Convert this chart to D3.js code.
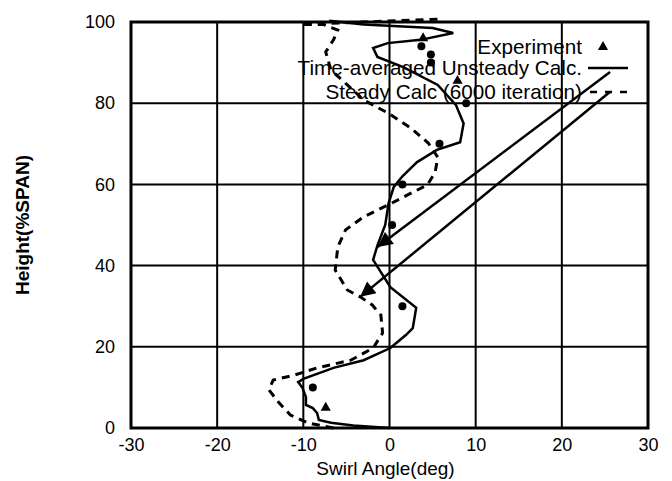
<!DOCTYPE html>
<html>
<head>
<meta charset="utf-8">
<script src="https://cdn.jsdelivr.net/npm/d3@7"></script>
<style>
  body { margin: 0; background: #fff; }
  text { font-family: "Liberation Sans", Arial, sans-serif; fill: #000; }
</style>
</head>
<body>
<div id="vis"></div>
<script>
// swirl angle (deg) vs span height (%)
let unsteadyAngle = [0, -4.2, -6.8, -8.2, -8.4, -8.9, -9.7, -9.7, -10.1, -10.6, -10, -6.5, -3, 0.1, 1.9, 2.7, 3.1, 0.1, -1.9, -1.4, -0.5, -0.1, 0.5, 1.5, 3.2, 5.5, 8.2, 8.6, 7.7, 5.6, 1.6, -1.4, -1.9, -0.2, 3.6, 7.4, 5, -3, -7];
let unsteadySpan  = [0, 0.6, 1.3, 2, 3.7, 4.9, 5.7, 7.6, 9.9, 11.3, 12.1, 14.8, 16.7, 19.7, 22.9, 24.6, 29.6, 34.7, 41.4, 45, 50, 55.4, 59.4, 62, 65.5, 68.5, 70.4, 75, 79.6, 84.5, 88.9, 91.4, 93.6, 94.8, 95.6, 97.3, 98.5, 99.4, 100.3];

let steadyAngle = [-6.5, -9.4, -11.5, -12.9, -14, -13.5, -11.1, -8.4, -4.5, -1.9, -0.8, -1, -2, -3.4, -4.9, -6.3, -6, -5.1, -3, -0.2, 2.1, 4.4, 5.3, 5.6, 4.5, 2.4, -0.2, -3, -4.9, -6.8, -7.4, -6.5, -6, -7.7, -10.3, 5.6];
let steadySpan  = [0, 1.2, 3.2, 6.4, 9.4, 11.8, 13, 14.8, 16.7, 19.7, 23.4, 27.8, 30.3, 32.3, 34, 38.9, 44.6, 48.8, 52, 54.9, 57.4, 59.9, 63, 66.7, 70.2, 74, 77.6, 80.8, 84.5, 88.2, 92.6, 95.6, 98, 99.4, 99.4, 100.7];

let expCircleAngle = [-8.9, 1.5, 0.3, 1.5, 5.8, 8.9, 3.7, 4.8, 4.8];
let expCircleSpan  = [10, 30, 50, 60, 70, 80, 94, 92, 90];
let expTriAngle = [-7.4, 7.9, 3.9];
let expTriSpan  = [5, 85.5, 96];

let xTicks = [-30, -20, -10, 0, 10, 20, 30];
let yTicks = [0, 20, 40, 60, 80, 100];

// leader arrows from the legend keys to the curves: [fromAngle, fromSpan, toAngle, toSpan]
let arrows = [[25.6, 87.7, -1.4, 44.6], [25.6, 82.8, -3.4, 32.3]];

let margin = {top: 22, left: 131, right: 24, bottom: 53},
  width  = 672 - margin.left - margin.right,
  height = 481 - margin.top - margin.bottom;

let svg = d3.select('#vis')
  .append('svg')
    .attr('width', 672)
    .attr('height', 481);

let g = svg.append('g')
  .attr('transform', `translate(${margin.left},${margin.top})`);

let x = d3.scaleLinear().domain([-30, 30]).range([0, width]);
let y = d3.scaleLinear().domain([0, 100]).range([height, 0]);

// grid
g.selectAll('.vgrid')
  .data(xTicks.slice(1, -1))
  .enter().append('line')
    .attr('x1', d => x(d)).attr('x2', d => x(d))
    .attr('y1', 0).attr('y2', height)
    .attr('stroke', '#000').attr('stroke-width', 2);
g.selectAll('.hgrid')
  .data(yTicks.slice(1, -1))
  .enter().append('line')
    .attr('x1', 0).attr('x2', width)
    .attr('y1', d => y(d)).attr('y2', d => y(d))
    .attr('stroke', '#000').attr('stroke-width', 2);

// axes (labels only, the frame is drawn below) - plain hyphen minus like the original
let xAxis = g.append('g')
  .attr('transform', `translate(0,${height})`)
  .call(d3.axisBottom(x).tickValues(xTicks).tickFormat(d => String(d)).tickSize(0).tickPadding(10));
let yAxis = g.append('g')
  .call(d3.axisLeft(y).tickValues(yTicks).tickFormat(d => String(d)).tickSize(0).tickPadding(16));
[xAxis, yAxis].forEach(a => {
  a.select('.domain').remove();
  a.selectAll('text').style('font-size', '18px').style('font-family', '"Liberation Sans", Arial, sans-serif');
});

// frame
g.append('rect')
  .attr('width', width).attr('height', height)
  .attr('fill', 'none').attr('stroke', '#000').attr('stroke-width', 3);

let line = d3.line().x(d => x(d[0])).y(d => y(d[1]));

g.append('path')
  .datum(d3.zip(unsteadyAngle, unsteadySpan))
  .attr('d', line)
  .attr('fill', 'none').attr('stroke', '#000').attr('stroke-width', 2.5)
  .attr('stroke-linejoin', 'miter');

g.append('path')
  .datum(d3.zip(steadyAngle, steadySpan))
  .attr('d', line)
  .attr('fill', 'none').attr('stroke', '#000').attr('stroke-width', 3)
  .attr('stroke-dasharray', '8,6');

// experiment markers
g.selectAll('.expc')
  .data(d3.zip(expCircleAngle, expCircleSpan))
  .enter().append('circle')
    .attr('cx', d => x(d[0])).attr('cy', d => y(d[1]))
    .attr('r', 4).attr('fill', '#000');
let tri = d3.symbol().type(d3.symbolTriangle).size(45);
g.selectAll('.expt')
  .data(d3.zip(expTriAngle, expTriSpan))
  .enter().append('path')
    .attr('d', tri)
    .attr('transform', d => `translate(${x(d[0])},${y(d[1])})`)
    .attr('fill', '#000');

// legend
let legend = g.append('g').attr('text-anchor', 'end').style('font-size', '20.7px');
let legendRows = [
  {label: 'Experiment', y: 25},
  {label: 'Time-averaged Unsteady Calc.', y: 46},
  {label: 'Steady Calc (6000 iteration)', y: 70}
];
legend.selectAll('text')
  .data(legendRows)
  .enter().append('text')
    .attr('x', 451).attr('y', d => d.y + 7)
    .text(d => d.label);
legend.append('path')
  .attr('d', tri)
  .attr('transform', 'translate(472,25)')
  .attr('fill', '#000');
legend.append('line')
  .attr('x1', 457).attr('x2', 497).attr('y1', 46).attr('y2', 46)
  .attr('stroke', '#000').attr('stroke-width', 2.5);
legend.append('line')
  .attr('x1', 459).attr('x2', 497).attr('y1', 70).attr('y2', 70)
  .attr('stroke', '#000').attr('stroke-width', 2.5)
  .attr('stroke-dasharray', '7,8');

// leader arrows
svg.append('defs').append('marker')
  .attr('id', 'head')
  .attr('viewBox', '0 0 10 10')
  .attr('refX', 10).attr('refY', 5)
  .attr('markerWidth', 7).attr('markerHeight', 6)
  .attr('markerUnits', 'strokeWidth')
  .attr('orient', 'auto')
  .append('path')
    .attr('d', 'M0,0L10,5L0,10Z')
    .attr('fill', '#000');
g.selectAll('.arrow')
  .data(arrows)
  .enter().append('line')
    .attr('x1', d => x(d[0])).attr('y1', d => y(d[1]))
    .attr('x2', d => x(d[2])).attr('y2', d => y(d[3]))
    .attr('stroke', '#000').attr('stroke-width', 2.5)
    .attr('marker-end', 'url(#head)');

// axis titles
svg.append('text')
  .attr('x', margin.left + x(0) - 4).attr('y', 475)
  .attr('text-anchor', 'middle')
  .style('font-size', '19px')
  .text('Swirl Angle(deg)');
svg.append('text')
  .attr('transform', 'translate(29,225) rotate(-90)')
  .attr('text-anchor', 'middle')
  .style('font-size', '19px')
  .style('font-weight', 'bold')
  .text('Height(%SPAN)');
</script>
</body>
</html>
